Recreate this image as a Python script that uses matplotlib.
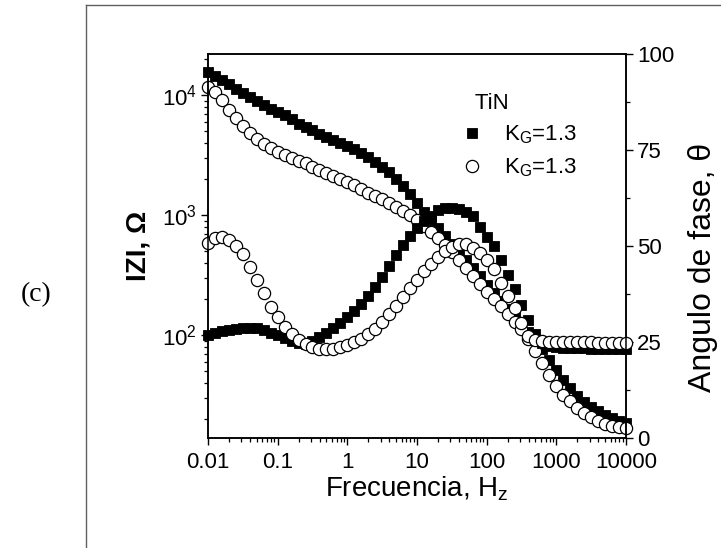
import math
import matplotlib
matplotlib.use("Agg")
import matplotlib.pyplot as plt
from matplotlib.ticker import FixedLocator, FuncFormatter, LogLocator, MultipleLocator, NullFormatter
from matplotlib.lines import Line2D

plt.rcParams['font.family'] = ['Liberation Sans', 'DejaVu Sans']
plt.rcParams['mathtext.default'] = 'regular'

# frequency grid, 10 points per decade (Hz)
freq = [0.01, 0.0126, 0.0158, 0.02, 0.0251, 0.0316, 0.0398, 0.0501, 0.0631, 0.0794,
        0.1, 0.126, 0.158, 0.2, 0.251, 0.316, 0.398, 0.501, 0.631, 0.794,
        1, 1.26, 1.58, 2, 2.51, 3.16, 3.98, 5.01, 6.31, 7.94,
        10, 12.6, 15.8, 20, 25.1, 31.6, 39.8, 50.1, 63.1, 79.4,
        100, 126, 158, 200, 251, 316, 398, 501, 631, 794,
        1000, 1260, 1580, 2000, 2510, 3160, 3980, 5010, 6310, 7940, 10000]

# |Z| in ohm
z_sq = [15550, 14400, 13340, 12350, 11330, 10390, 9620, 8910, 8250, 7650,
        7220, 6810, 6310, 5730, 5410, 5110, 4730, 4470, 4220, 3980,
        3760, 3550, 3290, 3040, 2770, 2510, 2280, 2000, 1750, 1500,
        1260, 1060, 909, 779, 668, 573, 492, 422, 362, 310,
        261, 224, 192, 165, 141, 121, 106, 90.9, 76.4, 61.9,
        51.1, 42.2, 36.2, 31.0, 27.7, 25.1, 23.3, 21.5, 20.3, 19.2, 18.5]
z_ci = [11660, 10590, 9090, 7500, 6430, 5520, 4820, 4300, 3910, 3610,
        3350, 3160, 2990, 2820, 2710, 2510, 2370, 2240, 2110, 2000,
        1880, 1780, 1650, 1520, 1440, 1360, 1260, 1170, 1080, 1000,
        909, 810, 721, 643, 562, 492, 422, 362, 310, 266,
        228, 200, 175, 150, 128, 112, 92.6, 73.6, 58.4, 46.4,
        37.6, 31.6, 28.2, 24.6, 22.4, 20.7, 19.2, 18.1, 17.5, 17.1, 16.8]

# phase angle in degrees
ph_sq = [26.8, 27.3, 27.9, 28.1, 28.4, 28.6, 28.6, 28.6, 28.1, 27.3,
         26.8, 26.0, 25.3, 24.7, 24.5, 25.3, 26.3, 27.3, 28.6, 29.9,
         31.5, 33.1, 34.9, 37.0, 39.3, 41.9, 44.8, 47.7, 50.3, 52.6,
         54.7, 56.5, 57.8, 59.4, 59.9, 59.9, 59.6, 58.9, 57.8, 55.0,
         52.3, 50.0, 46.4, 42.4, 38.8, 34.6, 30.7, 27.1, 24.7, 24.0,
         23.7, 23.4, 23.4, 23.4, 23.4, 23.2, 23.2, 23.2, 23.2, 23.2, 23.2]
ph_ci = [50.8, 52.1, 52.3, 51.6, 50.0, 47.9, 44.5, 41.1, 37.8, 34.1,
         31.5, 28.9, 27.1, 25.5, 24.5, 23.7, 23.2, 23.2, 23.2, 23.7,
         24.2, 25.0, 25.8, 27.1, 28.4, 30.2, 32.3, 34.4, 36.7, 39.1,
         41.1, 43.5, 45.3, 47.1, 48.7, 49.7, 50.5, 50.5, 49.5, 48.2,
         46.4, 44.0, 40.4, 37.0, 33.9, 29.9, 26.6, 25.5, 25.3, 25.1,
         25.0, 25.0, 25.0, 25.0, 25.0, 25.0, 24.7, 24.7, 24.7, 24.7, 24.7]

xticks = [0.01, 0.1, 1, 10, 100, 1000, 10000]
xtick_labels = ['0.01', '0.1', '1', '10', '100', '1000', '10000']
ph_ticks = [0, 25, 50, 75, 100]

fig = plt.figure(figsize=(7.21, 5.48), dpi=100)

# page frame around the panel
fig.add_artist(Line2D([86 / 721, 86 / 721], [0, 1 - 4.5 / 548], transform=fig.transFigure,
                      color='#606060', lw=1.0))
fig.add_artist(Line2D([86 / 721, 1], [1 - 4.5 / 548, 1 - 4.5 / 548], transform=fig.transFigure,
                      color='#606060', lw=1.0))
fig.text(36 / 721, 1 - 295 / 548, '(c)', family='Liberation Serif', fontsize=20,
         ha='center', va='center')

ax = fig.add_axes([208 / 721, 1 - 438 / 548, 418 / 721, 384 / 548])
ax2 = ax.twinx()

msq = dict(marker='s', ms=7.8, mfc='black', mec='black', mew=0.6, ls='none', clip_on=False)
mci = dict(marker='o', ms=8.8, mfc='white', mec='black', mew=0.9, ls='none', clip_on=False)

h1, = ax.plot(freq, z_sq, **msq)
h2, = ax.plot(freq, z_ci, **mci)
ax2.plot(freq, ph_sq, **msq)
ax2.plot(freq, ph_ci, **mci)

ax.set_xscale('log')
ax.set_yscale('log')
ax.set_xlim(0.01, 10000)
ax.set_ylim(13.9, 22000)
ax2.set_ylim(0, 100)

ax.xaxis.set_major_locator(FixedLocator(xticks))
ax.xaxis.set_major_formatter(FuncFormatter(lambda v, p: xtick_labels[xticks.index(v)] if v in xticks else ''))
ax.xaxis.set_minor_locator(LogLocator(base=10, subs=range(2, 10), numticks=20))
ax.xaxis.set_minor_formatter(NullFormatter())
ax.yaxis.set_major_locator(FixedLocator([100, 1000, 10000]))
ax.yaxis.set_major_formatter(FuncFormatter(lambda v, p: '$10^{%d}$' % round(math.log10(v))))
ax.yaxis.set_minor_locator(LogLocator(base=10, subs=range(2, 10), numticks=20))
ax.yaxis.set_minor_formatter(NullFormatter())

ax2.yaxis.set_major_locator(FixedLocator(ph_ticks))
ax2.yaxis.set_minor_locator(MultipleLocator(12.5))

for a in (ax, ax2):
    for s in a.spines.values():
        s.set_linewidth(1.1)
    a.tick_params(which='major', direction='out', length=5, width=1.0, labelsize=16, pad=3)
    a.tick_params(which='minor', direction='out', length=3, width=0.9)
ax.tick_params(axis='x', pad=5)
ax.tick_params(axis='y', which='both', right=False)
ax2.tick_params(axis='y', which='both', left=False)

ax.set_xlabel('Frecuencia, H$_z$', fontsize=20, labelpad=1)
ax.set_ylabel('IZI, Ω', fontsize=20, fontweight='bold')
ax.yaxis.set_label_coords(-0.135, 0.5)
ax2.set_ylabel('Angulo de fase, θ', fontsize=23)
ax2.yaxis.set_label_coords(1.148, 0.443)

leg = ax2.legend([h1, h2], ['K$_G$=1.3', 'K$_G$=1.3'], title='  TiN', loc='upper left',
                 bbox_to_anchor=(0.588, 0.922), frameon=False, fontsize=16, title_fontsize=16,
                 handlelength=0.8, handletextpad=1.08, labelspacing=0.45, borderaxespad=0)
leg._legend_box.align = 'left'

fig.savefig('out.png', dpi=100)
